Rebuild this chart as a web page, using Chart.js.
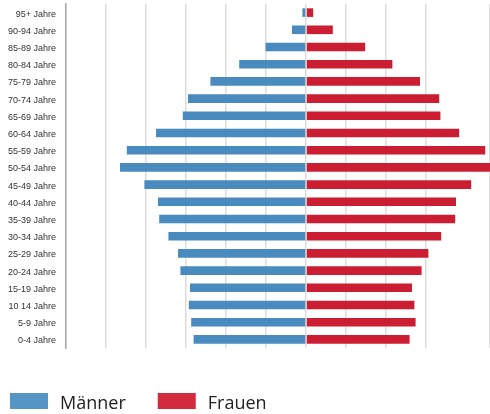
<!DOCTYPE html>
<html>
<head>
<meta charset="utf-8">
<script src="https://cdn.jsdelivr.net/npm/chart.js@4/dist/chart.umd.min.js"></script>
<style>
  html, body { margin: 0; padding: 0; background: #fff; }
  #wrap { width: 490px; height: 414px; }
</style>
</head>
<body>
<div id="wrap"><canvas id="pyramid" width="490" height="414"></canvas></div>
<script>
// Altersgruppen, von oben nach unten
const ageGroups = [
  '95+ Jahre', '90-94 Jahre', '85-89 Jahre', '80-84 Jahre', '75-79 Jahre',
  '70-74 Jahre', '65-69 Jahre', '60-64 Jahre', '55-59 Jahre', '50-54 Jahre',
  '45-49 Jahre', '40-44 Jahre', '35-39 Jahre', '30-34 Jahre', '25-29 Jahre',
  '20-24 Jahre', '15-19 Jahre', '10 14 Jahre', '5-9 Jahre', '0-4 Jahre'
];

// Bevölkerungsanteile je Altersgruppe
const maenner = [
  0.09, 0.35, 1.01, 1.67, 2.39, 2.95, 3.08, 3.75, 4.48, 4.65,
  4.04, 3.70, 3.67, 3.44, 3.20, 3.14, 2.90, 2.93, 2.87, 2.81
];
const frauen = [
  0.18, 0.67, 1.48, 2.16, 2.85, 3.33, 3.36, 3.83, 4.48, 4.65,
  4.13, 3.75, 3.73, 3.38, 3.06, 2.89, 2.65, 2.71, 2.74, 2.59
];

// Achsenbereich (Männer links, Frauen rechts)
const axisMin = -6;
const axisMax = 4.6;

const blue = '#4a8bbf';
const red = '#cc1e33';

// Legende unter dem Diagramm
const bottomLegend = {
  id: 'bottomLegend',
  afterDraw(chart) {
    const ctx = chart.ctx;
    ctx.save();
    ctx.font = '18px "Open Sans", "Noto Sans", sans-serif';
    ctx.textBaseline = 'alphabetic';
    let x = 10;
    const boxTop = 393, boxW = 38, boxH = 16;
    chart.data.datasets.forEach((ds) => {
      ctx.fillStyle = ds.legendColor;
      ctx.fillRect(x, boxTop, boxW, boxH);
      ctx.fillStyle = '#222';
      ctx.fillText(ds.label, x + boxW + 12, 409);
      x += boxW + 12 + ctx.measureText(ds.label).width + 32;
    });
    ctx.restore();
  }
};

new Chart(document.getElementById('pyramid'), {
  type: 'bar',
  data: {
    labels: ageGroups,
    datasets: [
      {
        label: 'Männer',
        data: maenner.map(v => -v),
        backgroundColor: blue,
        legendColor: '#5595c6',
        barPercentage: 0.5,
        categoryPercentage: 1.0
      },
      {
        label: 'Frauen',
        data: frauen,
        backgroundColor: red,
        legendColor: '#d42a40',
        barPercentage: 0.5,
        categoryPercentage: 1.0
      }
    ]
  },
  options: {
    indexAxis: 'y',
    responsive: false,
    animation: false,
    layout: { padding: { top: 4, right: 0, left: 0, bottom: 0 } },
    plugins: {
      legend: { display: false },
      tooltip: { enabled: false }
    },
    scales: {
      x: {
        stacked: true,
        min: axisMin,
        max: axisMax,
        ticks: { display: false, stepSize: 1 },
        grid: {
          color: '#dcdcdc',
          lineWidth: 1.5,
          drawTicks: false
        },
        border: { display: false },
        afterFit(scale) {
          scale.height = 66;
          scale.paddingLeft = 0;
          scale.paddingRight = 0;
        }
      },
      y: {
        stacked: true,
        ticks: {
          color: '#333',
          font: { family: '"Liberation Sans", Arial, sans-serif', size: 9 },
          padding: 10,
          labelOffset: 1.5
        },
        grid: { display: false, drawTicks: false },
        border: { display: true, color: '#a8a8a8', width: 1.5 },
        afterFit(scale) {
          scale.width = 66;
          scale.paddingTop = 0;
          scale.paddingBottom = 0;
        }
      }
    }
  },
  plugins: [bottomLegend]
});
</script>
</body>
</html>
